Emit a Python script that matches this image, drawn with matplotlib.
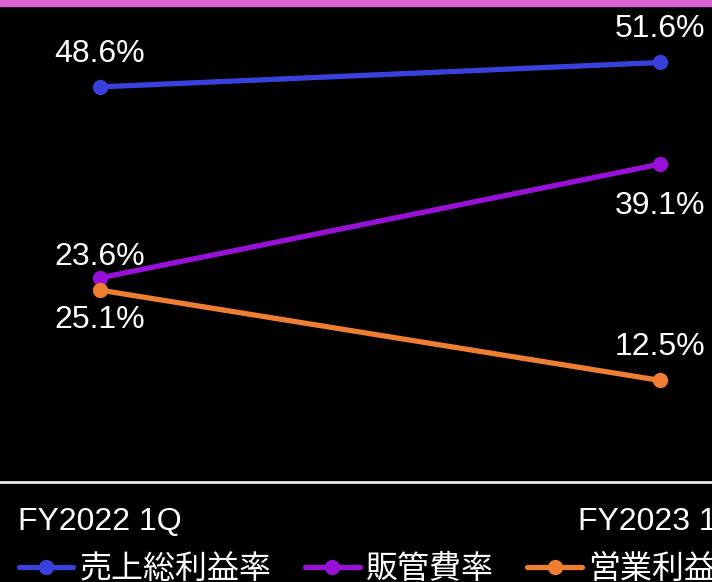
import matplotlib
matplotlib.use("Agg")
import matplotlib.pyplot as plt
from matplotlib.patches import Rectangle

plt.rcParams['font.family'] = ['Liberation Sans', 'Noto Sans CJK JP']

# data
periods = ['FY2022 1Q', 'FY2023 1Q']
gross_margin = [48.6, 51.6]     # 売上総利益率
sga_ratio = [25.1, 39.1]        # 販管費率
op_margin = [23.6, 12.5]        # 営業利益率
series_names = ['売上総利益率', '販管費率', '営業利益率']

colors = ['#3a40dc', '#9910d8', '#ef7d32']
label_side = [1, -1, 1]   # 1 = label above point, -1 = below

W, H = 712, 582
fig = plt.figure(figsize=(W / 100, H / 100), dpi=100, facecolor='black')

# pink band at the top
fig.patches.append(Rectangle((0, 1 - 6 / H), 1, 6 / H, transform=fig.transFigure,
                             color='#d862d6', zorder=5))

ax = fig.add_axes([0, 1 - 482 / H, 1, (482 - 6) / H])
ax.set_facecolor('black')

x = list(range(len(periods)))
all_series = [gross_margin, sga_ratio, op_margin]
for vals, name, c, side in zip(all_series, series_names, colors, label_side):
    ax.plot(x, vals, color=c, lw=3.8, marker='o', ms=10, label=name,
            solid_capstyle='round')
    for xi, v in zip(x, vals):
        off = 24 if side > 0 else -30
        ax.annotate(f'{v}%', (xi, v), xytext=(0, off), textcoords='offset points',
                    ha='center', va='center', color='white', fontsize=23)

# category positions: first at x=100px, second at x=660px
ax.set_xlim(-100 / 560, 1 + 52 / 560)
ax.set_ylim(0, 476 / 8.13)

ax.set_xticks(x)
ax.set_xticklabels(periods, color='white', fontsize=23)
ax.tick_params(axis='x', length=0, pad=18)
ax.set_yticks([])
for s in ['top', 'left', 'right']:
    ax.spines[s].set_visible(False)
ax.spines['bottom'].set_color('white')
ax.spines['bottom'].set_linewidth(1.8)

leg = fig.legend(loc='upper left', bbox_to_anchor=(19 / W, 1 - 555 / H), ncol=3,
                 frameon=False, fontsize=23, handlelength=1.7, handletextpad=0.2,
                 columnspacing=1.05, borderaxespad=0, borderpad=0)
for t in leg.get_texts():
    t.set_color('white')

fig.savefig('out.png', dpi=100, facecolor='black')
